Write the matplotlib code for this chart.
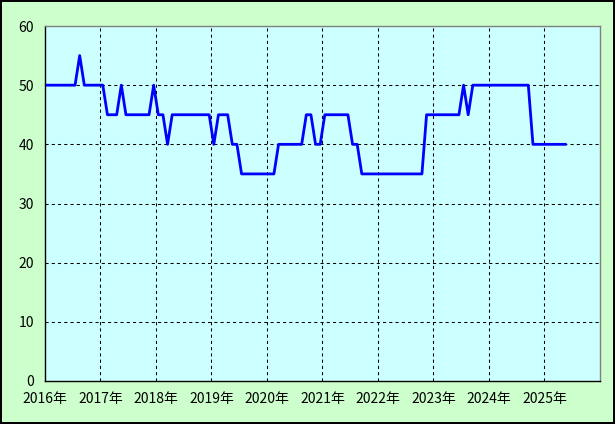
import numpy as np
import matplotlib
import matplotlib.pyplot as plt

matplotlib.use("Agg")

plt.rcParams['font.family'] = ['Noto Sans CJK JP', 'DejaVu Sans']

# monthly values, Jan..Dec of each year
values_2016 = [50, 50, 50, 50, 50, 50, 50, 55, 50, 50, 50, 50]
values_2017 = [50, 45, 45, 45, 50, 45, 45, 45, 45, 45, 45, 50]
values_2018 = [45, 45, 40, 45, 45, 45, 45, 45, 45, 45, 45, 45]
values_2019 = [40, 45, 45, 45, 40, 40, 35, 35, 35, 35, 35, 35]
values_2020 = [35, 35, 40, 40, 40, 40, 40, 40, 45, 45, 40, 40]
values_2021 = [45, 45, 45, 45, 45, 45, 40, 40, 35, 35, 35, 35]
values_2022 = [35, 35, 35, 35, 35, 35, 35, 35, 35, 35, 45, 45]
values_2023 = [45, 45, 45, 45, 45, 45, 50, 45, 50, 50, 50, 50]
values_2024 = [50, 50, 50, 50, 50, 50, 50, 50, 50, 40, 40, 40]
values_2025 = [40, 40, 40, 40, 40]

YEARS = list(range(2016, 2026))
YEAR_LABELS = [f"{y}年" for y in YEARS]

values = (values_2016 + values_2017 + values_2018 + values_2019 + values_2020
          + values_2021 + values_2022 + values_2023 + values_2024 + values_2025)
# each point sits in the middle of its month
x = 2016 + (np.arange(len(values)) + 0.5) / 12

fig = plt.figure(figsize=(6.15, 4.24), dpi=100)
fig.patch.set_facecolor("#CCFFCC")
fig.patch.set_edgecolor("black")
fig.patch.set_linewidth(1.5)

ax = fig.add_axes([45 / 615, 43 / 424, 555 / 615, 355 / 424])
ax.set_facecolor("#CCFFFF")

ax.plot(x, values, color="#0000FF", linewidth=2.0, zorder=3)

ax.set_xlim(2016, 2026)
ax.set_ylim(0, 60)
ax.set_xticks(YEARS)
ax.set_xticklabels(YEAR_LABELS)
ax.set_yticks(range(0, 61, 10))

# dashed grid, only the inner lines
for y in range(10, 60, 10):
    ax.axhline(y, color="black", linewidth=0.75, linestyle=(0, (3, 3)), zorder=1)
for yr in YEARS[1:]:
    ax.axvline(yr, color="black", linewidth=0.75, linestyle=(0, (3, 3)), zorder=1)

ax.tick_params(length=0, labelsize=10, colors="black")
ax.tick_params(axis="x", pad=8)
ax.tick_params(axis="y", pad=8)

for side in ["left", "bottom"]:
    ax.spines[side].set_color("black")
    ax.spines[side].set_linewidth(1)
for side in ["top", "right"]:
    ax.spines[side].set_color("#808080")
    ax.spines[side].set_linewidth(1)

plt.savefig("out.png", dpi=100, facecolor=fig.get_facecolor(), edgecolor="black")
plt.close(fig)
